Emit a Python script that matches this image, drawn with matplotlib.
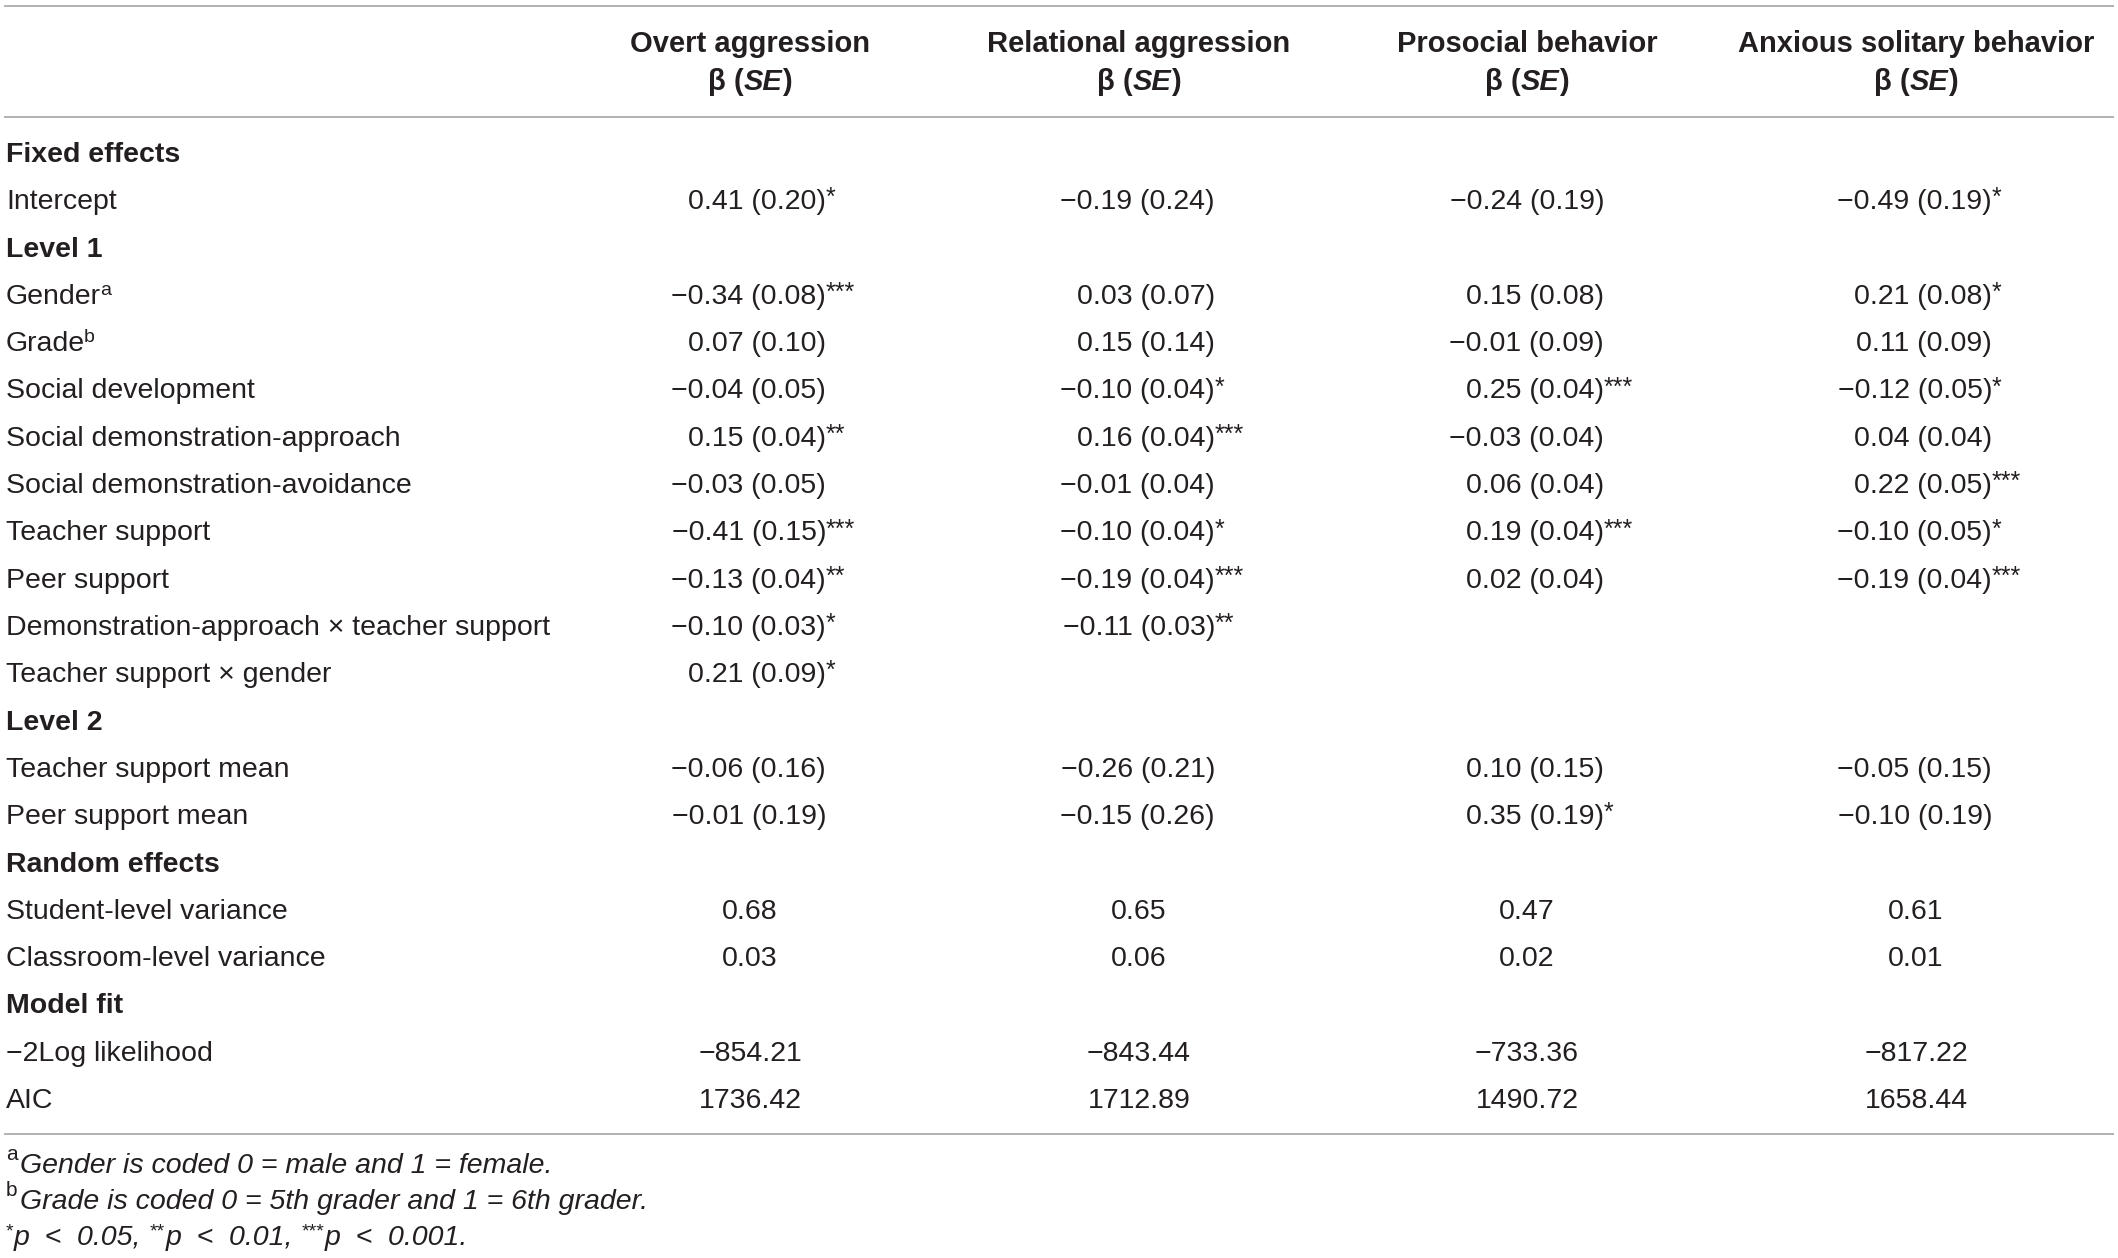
import matplotlib
matplotlib.use("Agg")
import matplotlib.pyplot as plt

# ---------------- data ----------------
columns = ["Overt aggression", "Relational aggression", "Prosocial behavior", "Anxious solitary behavior"]

row_labels = [
    "Fixed effects", "Intercept", "Level 1", "Gender", "Grade", "Social development",
    "Social demonstration-approach", "Social demonstration-avoidance", "Teacher support",
    "Peer support", "Demonstration-approach \u00d7 teacher support", "Teacher support \u00d7 gender",
    "Level 2", "Teacher support mean", "Peer support mean", "Random effects",
    "Student-level variance", "Classroom-level variance", "Model fit",
    "\u22122Log likelihood", "AIC",
]
section_rows = [0, 2, 12, 15, 18]
label_sups = {3: "a", 4: "b"}

coef_rows = [1, 3, 4, 5, 6, 7, 8, 9, 10, 11, 13, 14]

overt_beta = [0.41, -0.34, 0.07, -0.04, 0.15, -0.03, -0.41, -0.13, -0.10, 0.21, -0.06, -0.01]
overt_se = [0.20, 0.08, 0.10, 0.05, 0.04, 0.05, 0.15, 0.04, 0.03, 0.09, 0.16, 0.19]
overt_sig = ["*", "***", "", "", "**", "", "***", "**", "*", "*", "", ""]

relational_beta = [-0.19, 0.03, 0.15, -0.10, 0.16, -0.01, -0.10, -0.19, -0.11, None, -0.26, -0.15]
relational_se = [0.24, 0.07, 0.14, 0.04, 0.04, 0.04, 0.04, 0.04, 0.03, None, 0.21, 0.26]
relational_sig = ["", "", "", "*", "***", "", "*", "***", "**", "", "", ""]

prosocial_beta = [-0.24, 0.15, -0.01, 0.25, -0.03, 0.06, 0.19, 0.02, None, None, 0.10, 0.35]
prosocial_se = [0.19, 0.08, 0.09, 0.04, 0.04, 0.04, 0.04, 0.04, None, None, 0.15, 0.19]
prosocial_sig = ["", "", "", "***", "", "", "***", "", "", "", "", "*"]

anxious_beta = [-0.49, 0.21, 0.11, -0.12, 0.04, 0.22, -0.10, -0.19, None, None, -0.05, -0.10]
anxious_se = [0.19, 0.08, 0.09, 0.05, 0.04, 0.05, 0.05, 0.04, None, None, 0.15, 0.19]
anxious_sig = ["*", "*", "", "*", "", "***", "*", "***", "", "", "", ""]

student_var = [0.68, 0.65, 0.47, 0.61]
classroom_var = [0.03, 0.06, 0.02, 0.01]
neg2loglik = [-854.21, -843.44, -733.36, -817.22]
aic = [1736.42, 1712.89, 1490.72, 1658.44]

footnotes = [
    ("a", "Gender is coded 0 = male and 1 = female."),
    ("b", "Grade is coded 0 = 5th grader and 1 = 6th grader."),
]
p_levels = [("*", "0.05"), ("**", "0.01"), ("***", "0.001")]

# ---------------- layout ----------------
W, H = 2118, 1258
FONT = "Liberation Sans"
TXT = "#231f20"
LINE = "#9d9d9d"
FS = 20.5          # body text
HFS = 21           # column headers
STAR_FS = 18       # significance asterisks in cells
STAR_RAISE = 4
LSUP_FS = 14       # label superscripts
LSUP_RAISE = 9

col_centers = [750, 1139, 1527, 1916]
col_right = [826, 1215, 1604, 1992]
label_x = 6
row0_base = 162
row_pitch = 47.3

fig = plt.figure(figsize=(W / 100, H / 100), dpi=100)
ax = fig.add_axes([0, 0, 1, 1])
ax.set_xlim(0, W)
ax.set_ylim(H, 0)
ax.axis("off")
renderer = fig.canvas.get_renderer()


def txt(x, y, s, **kw):
    params = dict(fontfamily=FONT, fontsize=FS, color=TXT, va="baseline", ha="left")
    params.update(kw)
    return ax.text(x, y, s, **params)


def width(t):
    return t.get_window_extent(renderer).width


def fmt(v):
    return f"{v:.2f}".replace("-", "\u2212")


# horizontal rules
for y in [5.5, 117, 1134]:
    ax.plot([4, W - 4], [y, y], color=LINE, lw=1.1, solid_capstyle="butt")

# header
for c, name in zip(col_centers, columns):
    txt(c, 52, name, fontweight="bold", ha="center", fontsize=HFS)
    pieces = [("\u03b2 (", "normal"), ("SE", "italic"), (")", "normal")]
    tmp = [txt(0, -100, s, fontweight="bold", fontstyle=st, fontsize=HFS) for s, st in pieces]
    ws = [width(t) for t in tmp]
    for t in tmp:
        t.remove()
    x = c - sum(ws) / 2
    for (s, st), w in zip(pieces, ws):
        txt(x, 90, s, fontweight="bold", fontstyle=st, fontsize=HFS)
        x += w

# row labels
for i, lab in enumerate(row_labels):
    yb = row0_base + i * row_pitch
    if i in section_rows:
        txt(label_x, yb, lab, fontweight="bold")
    else:
        t = txt(label_x, yb, lab)
        if i in label_sups:
            txt(label_x + width(t) - 1, yb - LSUP_RAISE, label_sups[i], fontsize=LSUP_FS)

# coefficient cells
coef_cols = [
    (overt_beta, overt_se, overt_sig),
    (relational_beta, relational_se, relational_sig),
    (prosocial_beta, prosocial_se, prosocial_sig),
    (anxious_beta, anxious_se, anxious_sig),
]
for ci, (betas, ses, sigs) in enumerate(coef_cols):
    for r, b, s, g in zip(coef_rows, betas, ses, sigs):
        if b is None:
            continue
        yb = row0_base + r * row_pitch
        txt(col_right[ci], yb, f"{fmt(b)} ({fmt(s)})", ha="right")
        if g:
            txt(col_right[ci], yb - STAR_RAISE, g, fontsize=STAR_FS)

# random effects and model fit
for r, vals in [(16, student_var), (17, classroom_var), (19, neg2loglik), (20, aic)]:
    yb = row0_base + r * row_pitch
    for ci, v in enumerate(vals):
        txt(col_centers[ci], yb, fmt(v), ha="center")

# footnotes
FN_FS = 20.5
FN_SUP_FS = 15
FN_STAR_FS = 14
fn_base = [1173, 1209]
for (sup, note), yb in zip(footnotes, fn_base):
    t = txt(6, yb - 13, sup, fontsize=FN_SUP_FS)
    x = 6 + width(t) + 2
    txt(x, yb, note, fontsize=FN_FS, fontstyle="italic")

yb = 1245
x = 6
for k, (stars, val) in enumerate(p_levels):
    t = txt(x, yb - 9, stars, fontsize=FN_STAR_FS)
    x += width(t)
    s = f"p  <  {val}" + ("," if k < len(p_levels) - 1 else ".")
    t = txt(x, yb, s, fontsize=FN_FS, fontstyle="italic")
    x += width(t) + 9

fig.savefig("out.png", dpi=100)
